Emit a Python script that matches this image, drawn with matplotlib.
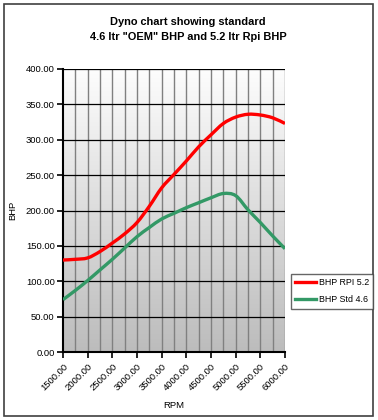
import matplotlib
matplotlib.use("Agg")
import matplotlib.pyplot as plt
import numpy as np
from matplotlib.patches import Rectangle, PathPatch
from matplotlib.path import Path
from matplotlib.lines import Line2D
from matplotlib.colors import LinearSegmentedColormap

plt.rcParams['font.family'] = ['Liberation Sans', 'DejaVu Sans']

rpm = [1500, 1750, 2000, 2250, 2500, 2750, 3000, 3250, 3500, 3750, 4000,
       4250, 4500, 4750, 5000, 5250, 5500, 5750, 6000]
bhp_rpi_52 = [130, 131, 133, 142, 154, 167, 183, 206, 232, 251, 270,
              290, 307, 323, 332, 336, 335, 331, 323]
bhp_std_46 = [74, 87, 101, 116, 131, 147, 163, 176, 188, 196, 204,
              211, 218, 224, 221, 201, 183, 164, 146]
tick_labels = ["1500.00", "2000.00", "2500.00", "3000.00", "3500.00",
               "4000.00", "4500.00", "5000.00", "5500.00", "6000.00"]
y_ticks = [0, 50, 100, 150, 200, 250, 300, 350, 400]
series_names = ['BHP RPI 5.2', 'BHP Std 4.6']
series_colors = ['#ff0000', '#339966']


def smooth_path(x, y):
    # Excel-style smoothed line: cubic Bezier segments through the data points
    x = np.asarray(x, float)
    y = np.asarray(y, float)
    verts = [(x[0], y[0])]
    codes = [Path.MOVETO]
    n = len(x)
    for i in range(n - 1):
        p0 = i - 1 if i > 0 else i
        p3 = i + 2 if i + 2 < n else i + 1
        c1 = (x[i] + (x[i + 1] - x[p0]) / 6, y[i] + (y[i + 1] - y[p0]) / 6)
        c2 = (x[i + 1] - (x[p3] - x[i]) / 6, y[i + 1] - (y[p3] - y[i]) / 6)
        verts += [c1, c2, (x[i + 1], y[i + 1])]
        codes += [Path.CURVE4] * 3
    return Path(verts, codes)


fig = plt.figure(figsize=(3.78, 4.2), dpi=100)
fig.patch.set_facecolor('white')
fig.patches.append(Rectangle((4/378, 1 - 416/420), 369/378, 412/420,
                             transform=fig.transFigure, fill=False,
                             edgecolor='#404040', linewidth=1.2))

ax = fig.add_axes([63/378, 1 - 352/420, 222/378, 283/420])
idx = np.arange(len(rpm))

grad = np.linspace(0, 1, 256).reshape(-1, 1)
cmap = LinearSegmentedColormap.from_list('g', ['#bcbcbc', '#fdfdfd'])
ax.imshow(grad, aspect='auto', cmap=cmap, origin='lower',
          extent=[0, len(rpm) - 1, 0, 400], zorder=0)

ax.set_xlim(0, len(rpm) - 1)
ax.set_ylim(0, 400)

for i in idx[1:]:
    ax.axvline(i, color='#808080', linewidth=1.0, zorder=1)
for v in y_ticks[1:]:
    ax.axhline(v, color='black', linewidth=0.9, zorder=1)

handles = []
for vals, name, col in zip([bhp_rpi_52, bhp_std_46], series_names, series_colors):
    patch = PathPatch(smooth_path(idx, vals), facecolor='none', edgecolor=col,
                      linewidth=2.4, zorder=3, joinstyle='round', capstyle='butt')
    ax.add_patch(patch)
    handles.append(Line2D([], [], color=col, linewidth=2.4, label=name))

ax.set_yticks(y_ticks)
ax.set_yticklabels([f"{v:.2f}" for v in y_ticks], fontsize=6.8)
ax.set_xticks(idx[::2])
ax.set_xticklabels(tick_labels, fontsize=6.8, rotation=45,
                   ha='right', va='top', rotation_mode='anchor')
ax.tick_params(axis='both', direction='out', length=4, width=1.2,
               color='black', pad=2)
ax.tick_params(axis='x', pad=3)

for s in ['top', 'right']:
    ax.spines[s].set_visible(False)
ax.spines['left'].set_linewidth(1.5)
ax.spines['bottom'].set_linewidth(1.5)

ax.set_xlabel('RPM', fontsize=6.8, labelpad=6)
ax.set_ylabel('BHP', fontsize=6.8, labelpad=6)

fig.text(188/378, 1 - 22/420, 'Dyno chart showing standard',
         ha='center', va='center', fontsize=7.9, fontweight='bold')
fig.text(188/378, 1 - 37/420, '4.6 ltr "OEM" BHP and 5.2 ltr Rpi BHP',
         ha='center', va='center', fontsize=7.9, fontweight='bold')

leg = fig.legend(handles=handles, loc='upper left',
                 bbox_to_anchor=(291/378, 1 - 274/420),
                 fontsize=6.4, frameon=True, fancybox=False,
                 edgecolor='#404040', handlelength=2.3, handletextpad=0.3,
                 borderpad=0.5, labelspacing=0.9, borderaxespad=0)
leg.get_frame().set_linewidth(1.0)

fig.savefig('out.png', dpi=100)
